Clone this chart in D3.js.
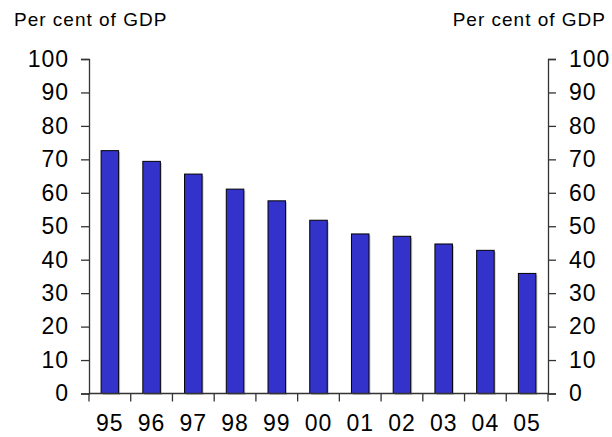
<!DOCTYPE html>
<html><head><meta charset="utf-8">
<script src="https://cdn.jsdelivr.net/npm/d3@7"></script>
<style>
html,body{margin:0;padding:0;background:#fff;}
svg text{font-family:"Liberation Sans",Arial,sans-serif;fill:#000;}
</style></head>
<body>
<svg id="c" width="612" height="437"></svg>
<script>
const categories = ["95","96","97","98","99","00","01","02","03","04","05"];
const values = [72.6, 69.4, 65.6, 61.1, 57.6, 51.8, 47.7, 47.0, 44.7, 42.8, 35.9];
const yTicks = [0,10,20,30,40,50,60,70,80,90,100];
const axisTitle = "Per cent of GDP";

const svg = d3.select("#c");
const L = 89, R = 548, T = 59, B = 393.5;
const x = d3.scaleBand().domain(categories).range([L, R]).paddingInner(0.58).paddingOuter(0.29);
const xb = d3.scaleBand().domain(categories).range([L, R]);
const y = d3.scaleLinear().domain([0,100]).range([B, T]);

// bar shadows
svg.append("g").selectAll("rect").data(values).join("rect")
  .attr("x", (d,i)=>x(categories[i])+1.5)
  .attr("y", d=>y(d)+1.5)
  .attr("width", x.bandwidth())
  .attr("height", d=>B-y(d))
  .attr("fill", "#c8c8c8");
// bars
svg.append("g").selectAll("rect").data(values).join("rect")
  .attr("x", (d,i)=>x(categories[i]))
  .attr("y", d=>y(d))
  .attr("width", x.bandwidth())
  .attr("height", d=>B-y(d))
  .attr("fill", "#3333cc")
  .attr("stroke", "#000")
  .attr("stroke-width", 1);

// left axis
const gl = svg.append("g").attr("transform", `translate(${L},0)`)
  .call(d3.axisLeft(y).tickValues(yTicks).tickSize(8).tickPadding(12).tickFormat(d3.format("d")));
const gr = svg.append("g").attr("transform", `translate(${R},0)`)
  .call(d3.axisRight(y).tickValues(yTicks).tickSize(8).tickPadding(13).tickFormat(d3.format("d")));
[gl, gr].forEach(g=>{
  g.select(".domain").attr("stroke","#333").attr("stroke-width",1.3);
  g.selectAll(".tick line").attr("stroke","#333").attr("stroke-width",1.3);
  g.selectAll(".tick text").attr("font-size",23).attr("letter-spacing","1px")
    .attr("font-family","Liberation Sans, Arial, sans-serif").attr("fill","#000");
});

// x axis with ticks at category boundaries
const gx = svg.append("g").attr("transform", `translate(0,${B})`);
gx.append("line").attr("x1",L).attr("x2",R).attr("stroke","#333").attr("stroke-width",1.3);
const bounds = categories.map(c=>xb(c)).concat([R]);
gx.selectAll("line.t").data(bounds).join("line").attr("class","t")
  .attr("x1",d=>d).attr("x2",d=>d).attr("y1",0).attr("y2",8)
  .attr("stroke","#333").attr("stroke-width",1.3);
gx.selectAll("text").data(categories).join("text")
  .attr("x", d=>xb(d)+xb.bandwidth()/2)
  .attr("y", 37)
  .attr("text-anchor","middle")
  .attr("font-size",23).attr("letter-spacing","1px")
  .text(d=>d);

// titles
svg.append("text").attr("x",14).attr("y",26).attr("font-size",19).attr("letter-spacing","1px").text(axisTitle);
svg.append("text").attr("x",606).attr("y",26).attr("text-anchor","end").attr("font-size",19).attr("letter-spacing","1px").text(axisTitle);
</script>
</body></html>
